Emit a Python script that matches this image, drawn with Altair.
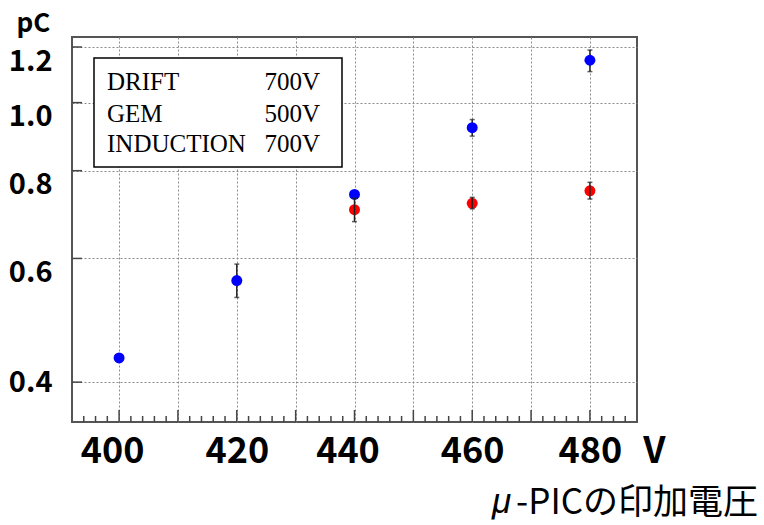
import altair as alt
import pandas as pd

# ---- data ----
volts_blue = [400, 420, 440, 460, 480]
charge_blue = [0.433, 0.558, 0.740, 0.921, 1.149]
charge_blue_lo = [0.428, 0.528, 0.732, 0.896, 1.107]
charge_blue_hi = [0.438, 0.589, 0.748, 0.946, 1.188]

volts_red = [440, 460, 480]
charge_red = [0.704, 0.719, 0.749]
charge_red_lo = [0.677, 0.706, 0.729]
charge_red_hi = [0.731, 0.733, 0.770]

x_grid_values = [400, 410, 420, 430, 440, 450, 460, 470, 480]
x_minor_ticks = [394, 396, 398, 402, 404, 406, 408, 412, 414, 416, 418,
                 422, 424, 426, 428, 432, 434, 436, 438, 442, 444, 446, 448,
                 452, 454, 456, 458, 462, 464, 466, 468, 472, 474, 476, 478,
                 482, 484, 486]
y_tick_values = [0.4, 0.6, 0.8, 1.0, 1.2]

legend_names = ["DRIFT", "GEM", "INDUCTION"]
legend_volts = ["700V", "500V", "700V"]
x_unit = "V"
y_unit = "pC"
x_title_symbol = "μ"
x_title_rest = "-PICの印加電圧"

blue = pd.DataFrame({"v": volts_blue, "q": charge_blue,
                     "lo": charge_blue_lo, "hi": charge_blue_hi})
red = pd.DataFrame({"v": volts_red, "q": charge_red,
                    "lo": charge_red_lo, "hi": charge_red_hi})

W, H = 565, 385
FONT = "Noto Sans CJK JP"
SERIF = "Liberation Serif"

xs = alt.Scale(domain=[392, 488], nice=False, zero=False)
ys = alt.Scale(type="log", domain=[0.351, 1.24], nice=False)

x_axis = alt.Axis(
    values=x_grid_values, grid=True, gridDash=[2, 2], gridColor="#8a8a8a",
    gridWidth=1,
    labelExpr="datum.value % 20 == 0 ? datum.label : ''",
    labelFont=FONT, labelFontSize=36, labelFontWeight="bold",
    labelColor="black", labelPadding=12, labelFlush=False,
    labelOverlap=False,
    labelOffset={"condition": {"test": "datum.value == 400 || datum.value == 440",
                               "value": -7}, "value": 0},
    ticks=False, tickSize=0, domain=False,
    title=x_unit, titleFont=FONT, titleFontSize=36, titleFontWeight="bold",
    titleColor="black", titleX=582, titleY=12, titleAlign="center",
    titleBaseline="top", titleAngle=0,
)
y_axis = alt.Axis(
    values=y_tick_values, format=".1f", grid=True, gridDash=[2, 2],
    gridColor="#8a8a8a", gridWidth=1,
    labelFont=FONT, labelFontSize=29, labelFontWeight="bold",
    labelColor="black", labelPadding=20, labelFlush=False,
    labelOverlap=False,
    labelBaseline={"condition": {"test": "datum.value < 0.5",
                                 "value": "middle"}, "value": "top"},
    ticks=False, tickSize=0, domain=False,
    title=y_unit, titleFont=FONT, titleFontSize=26, titleFontWeight="bold",
    titleColor="black", titleAngle=0, titleX=-39, titleY=-6,
    titleAlign="center", titleBaseline="alphabetic",
)


def X(f):
    return alt.X(f, scale=xs, axis=x_axis)


def Y(f):
    return alt.Y(f, scale=ys, axis=y_axis)


bar_color = "#222222"


def bars(df):
    return alt.Chart(df).mark_rule(color=bar_color, strokeWidth=1.5).encode(
        x=X("v:Q"), y=Y("lo:Q"), y2="hi:Q")


def cap(df, f):
    return alt.Chart(df).mark_tick(color=bar_color, orient="horizontal",
                                   size=5, thickness=1.5).encode(
        x=X("v:Q"), y=Y(f))


def pts(df, c):
    return alt.Chart(df).mark_circle(color=c, size=120, opacity=1).encode(
        x=X("v:Q"), y=Y("q:Q"))


# axis ticks drawn inside the frame
major_x = alt.Chart(pd.DataFrame({"t": x_grid_values})).mark_rule(
    color="#444", strokeWidth=1.5).encode(
    x=X("t:Q"), y=alt.value(H), y2=alt.value(H - 12))
minor_x = alt.Chart(pd.DataFrame({"t": x_minor_ticks})).mark_rule(
    color="#444", strokeWidth=1.5).encode(
    x=X("t:Q"), y=alt.value(H), y2=alt.value(H - 6))
major_y = alt.Chart(pd.DataFrame({"t": y_tick_values})).mark_rule(
    color="#444", strokeWidth=1.5).encode(
    y=Y("t:Q"), x=alt.value(0), x2=alt.value(10))

# info box
box = alt.Chart(alt.Data(values=[{"k": 1}])).mark_rect(
    fill="white", stroke="black", strokeWidth=1.5).encode(
    x=alt.value(22), x2=alt.value(270), y=alt.value(21), y2=alt.value(130))

text_layers = []
row_y = [53, 85, 115]
for name, volt, yy in zip(legend_names, legend_volts, row_y):
    text_layers.append(
        alt.Chart(alt.Data(values=[{"t": name}])).mark_text(
            font=SERIF, fontSize=25, align="left", baseline="alphabetic",
            color="black").encode(text="t:N", x=alt.value(35), y=alt.value(yy)))
    text_layers.append(
        alt.Chart(alt.Data(values=[{"t": volt}])).mark_text(
            font=SERIF, fontSize=25, align="right", baseline="alphabetic",
            color="black").encode(text="t:N", x=alt.value(248), y=alt.value(yy)))

xtitle_sym = alt.Chart(alt.Data(values=[{"t": x_title_symbol}])).mark_text(
    font="Liberation Sans", fontSize=35, fontStyle="italic", align="left",
    baseline="alphabetic", color="black").encode(
    text="t:N", x=alt.value(420), y=alt.value(476))
xtitle = alt.Chart(alt.Data(values=[{"t": x_title_rest}])).mark_text(
    font=FONT, fontSize=35, align="right", baseline="alphabetic",
    color="black").encode(text="t:N", x=alt.value(686), y=alt.value(477))

chart = alt.layer(
    major_x, minor_x, major_y,
    bars(blue), cap(blue, "lo:Q"), cap(blue, "hi:Q"), pts(blue, "#0000ff"),
    pts(red, "#ff0000"), bars(red), cap(red, "lo:Q"), cap(red, "hi:Q"),
    box, *text_layers, xtitle_sym, xtitle,
).properties(
    width=W, height=H,
    autosize=alt.AutoSizeParams(type="none"),
    padding={"left": 72, "top": 37, "right": 764 - 72 - W, "bottom": 525 - 37 - H},
    background="white",
).configure_view(stroke="#555", strokeWidth=2)

chart.save("out.html", embed_options={"renderer": "svg", "actions": False})
